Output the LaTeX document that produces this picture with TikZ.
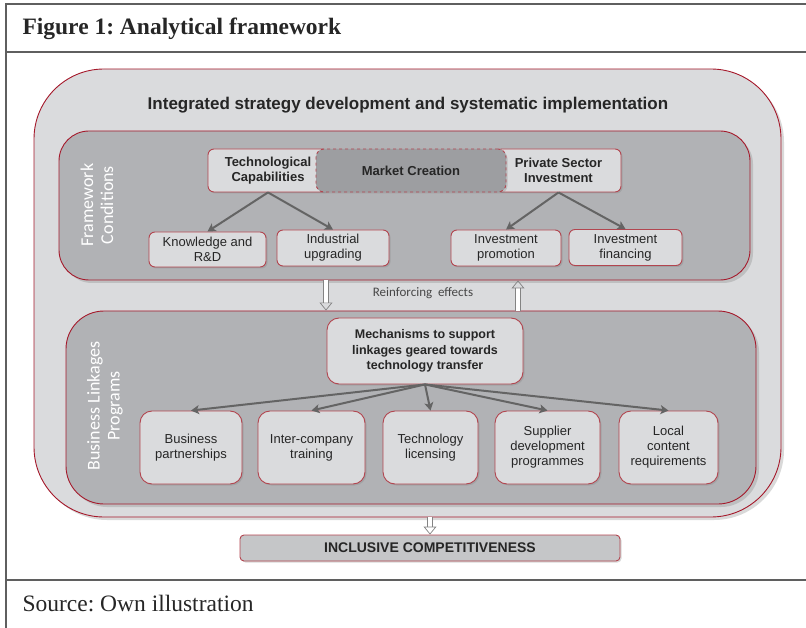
\documentclass[tikz,border=0pt]{standalone}
\usepackage{fontspec}
\setmainfont{Liberation Serif}
\setsansfont{Liberation Sans}
\newfontfamily\calfont{Carlito}
\usetikzlibrary{arrows.meta}
\usetikzlibrary{shadows}
\frenchspacing

\definecolor{framegray}{HTML}{5F5F5F}
\definecolor{outergray}{HTML}{DADBDD}
\definecolor{panelgray}{HTML}{B1B2B5}
\definecolor{boxgray}{HTML}{DADBDD}
\definecolor{marketgray}{HTML}{9D9EA1}
\definecolor{inclgray}{HTML}{C5C6C8}
\definecolor{darkred}{HTML}{A5192B}
\definecolor{boxred}{HTML}{B2454F}
\definecolor{arrowgray}{HTML}{646464}
\definecolor{txt}{HTML}{262626}

\begin{document}
\begin{tikzpicture}[x=1pt,y=-1pt,
    panel/.style={draw=darkred,line width=0.9pt,fill=panelgray,drop shadow={shadow xshift=3pt,shadow yshift=-3pt,opacity=0.3}},
    box/.style={draw=boxred,line width=0.9pt,fill=boxgray,rounded corners=6pt,inner sep=0pt,align=center,text=txt,font=\sffamily\fontsize{13}{15}\selectfont,drop shadow={shadow xshift=1.5pt,shadow yshift=-1.5pt,opacity=0.3}},
    bbox/.style={box,font=\sffamily\bfseries\fontsize{13}{15}\selectfont},
    lowbox/.style={box,rounded corners=12pt,minimum height=73pt},
    link/.style={draw=arrowgray,line width=2pt,-{Stealth[length=8pt,width=9pt,inset=2pt]}},
    hollow/.style={draw=arrowgray!80,line width=0.7pt,double=white,double distance=4pt,-{Triangle[open,length=8pt,width=13pt]}},
    sidelabel/.style={rotate=90,align=center,text=white,font=\calfont\fontsize{18}{20}\selectfont}
]

    \useasboundingbox (0,0) rectangle (806,628);

    % frame of the figure
    \draw[line width=1.2pt,framegray] (806,4) -- (6,4) -- (6,628);
    \draw[line width=1.2pt,framegray] (6,52) -- (806,52);
    \draw[line width=1.2pt,framegray] (6,580) -- (806,580);

    \node[anchor=west,text=txt,font=\bfseries\fontsize{23.5}{26}\selectfont] (figtitle) at (19,29) {Figure 1: Analytical framework};
    \node[anchor=west,text=txt,font=\fontsize{23.5}{26}\selectfont] (source) at (19,604) {Source: Own illustration};

    % outer block and the two panels
    \node[panel,fill=outergray,rounded corners=70pt,minimum width=747pt,minimum height=448pt] (outer) at (407.5,293) {};
    \node[text=txt,font=\sffamily\bfseries\fontsize{17}{20}\selectfont] (strategy) at (408,105) {Integrated strategy development and systematic implementation};

    \node[panel,rounded corners=30pt,minimum width=691pt,minimum height=149pt] (fw) at (404.5,205.5) {};
    \node[panel,rounded corners=38pt,minimum width=690pt,minimum height=193pt] (blp) at (411,407.5) {};

    \node[sidelabel] (fwlabel) at (97,205) {Framework\\Conditions};
    \node[sidelabel] (blplabel) at (105,406) {Business Linkages\\Programs};

    % framework conditions
    \node[bbox,minimum width=120pt,minimum height=43pt] (tech) at (268,170.5) {Technological\\Capabilities};
    \node[bbox,minimum width=125pt,minimum height=43pt] (private) at (558.5,170.5) {Private Sector\\Investment};
    \node[bbox,dashed,fill=marketgray,rounded corners=8pt,minimum width=190pt,minimum height=43pt] (market) at (411,170.5) {Market Creation};

    \node[box,minimum width=117pt,minimum height=35pt] (knowledge) at (207.5,249.5) {Knowledge and\\R\&D};
    \node[box,minimum width=112pt,minimum height=36pt] (upgrading) at (333,248) {Industrial\\upgrading};
    \node[box,minimum width=110pt,minimum height=36pt] (promotion) at (506,248) {Investment\\promotion};
    \node[box,minimum width=113pt,minimum height=36pt] (financing) at (625.5,247.5) {Investment\\financing};

    \foreach \child in {knowledge,upgrading}
        \draw[link] (tech.south) -- (\child.north);
    \foreach \child in {promotion,financing}
        \draw[link] (private.south) -- (\child.north);

    % reinforcing effects
    \node[text=txt!85,font=\calfont\fontsize{13}{15}\selectfont] (reinf) at (423,293) {Reinforcing\ \ effects};
    \coordinate (downx) at (326,0);
    \coordinate (upx) at (518,0);
    \draw[hollow] (downx |- fw.south) -- (downx |- blp.north);
    \draw[hollow] (upx |- blp.north) -- (upx |- fw.south);

    % business linkages programs
    \node[bbox,rounded corners=12pt,minimum width=196pt,minimum height=66pt,font=\sffamily\bfseries\fontsize{12.5}{15.5}\selectfont] (mech) at (425,351) {Mechanisms to support\\linkages geared towards\\technology transfer};

    \node[lowbox,minimum width=102pt] (partners) at (191,447.5) {Business\\partnerships};
    \node[lowbox,minimum width=107pt] (training) at (311.5,447.5) {Inter-company\\training};
    \node[lowbox,minimum width=95pt] (licensing) at (430.5,447.5) {Technology\\licensing};
    \node[lowbox,minimum width=105pt] (supplier) at (547.5,447.5) {Supplier\\development\\programmes};
    \node[lowbox,minimum width=99pt] (localcontent) at (668.5,447.5) {Local\\content\\requirements};

    \foreach \child in {partners,training,licensing,supplier,localcontent}
        \draw[link] (mech.south) -- (\child.north);

    % result
    \node[bbox,fill=inclgray,rounded corners=4pt,minimum width=380pt,minimum height=26pt,font=\sffamily\bfseries\fontsize{14}{16}\selectfont] (incl) at (430,548) {INCLUSIVE COMPETITIVENESS};
    \draw[hollow] (incl.north |- outer.south) -- (incl.north);

\end{tikzpicture}
\end{document}
